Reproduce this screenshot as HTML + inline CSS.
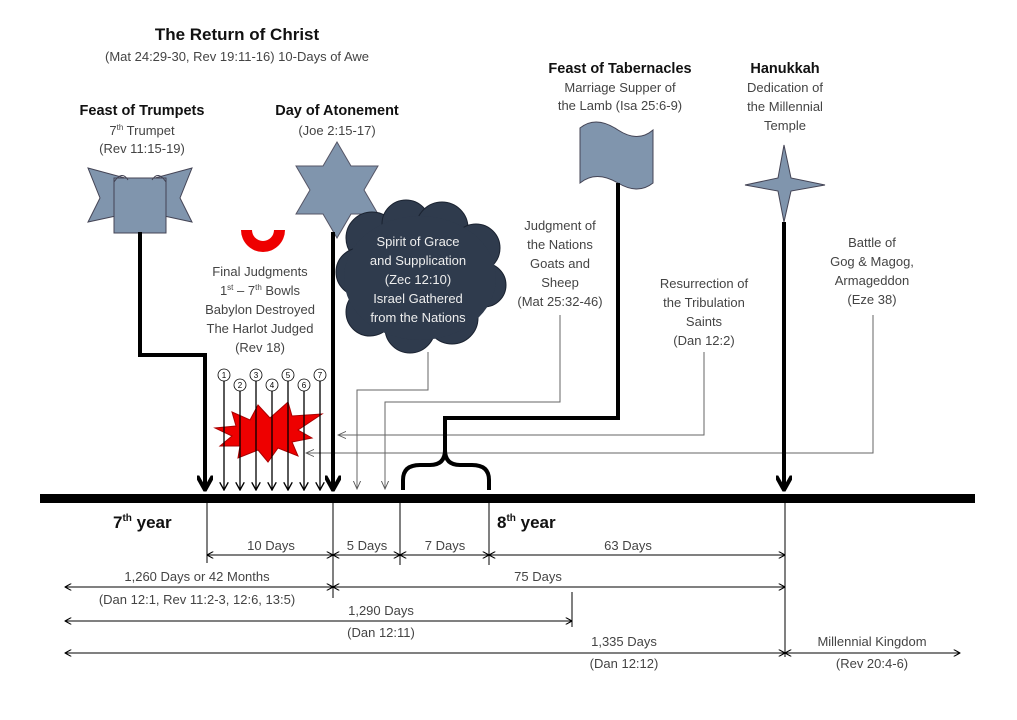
<!DOCTYPE html>
<html><head><meta charset="utf-8"><style>
html,body{margin:0;padding:0;background:#fff;}
svg{display:block;font-family:"Liberation Sans",sans-serif;}
.t{fill:#444;font-size:13px;text-anchor:middle;}
.b{fill:#111;font-size:14.5px;font-weight:bold;text-anchor:middle;}
.w{fill:#eee;font-size:13px;text-anchor:middle;}
</style></head><body>
<svg width="1017" height="720" viewBox="0 0 1017 720">
<defs>
<marker id="ah" viewBox="0 0 10 10" refX="9" refY="5" markerWidth="7" markerHeight="7" orient="auto-start-reverse"><path d="M0,0 L9,5 L0,10" fill="none" stroke="#000" stroke-width="1.5"/></marker>
<marker id="bh" viewBox="0 0 10 10" refX="9" refY="5" markerWidth="4" markerHeight="4" orient="auto"><path d="M0,0 L9,5 L0,10" fill="none" stroke="#000" stroke-width="2.5"/></marker>
<marker id="gh" viewBox="0 0 10 10" refX="9" refY="5" markerWidth="9" markerHeight="9" orient="auto"><path d="M0,1 L9,5 L0,9" fill="none" stroke="#555" stroke-width="1"/></marker>
</defs>
<text class="b" x="237" y="40" style="font-size:17px">The Return of Christ</text>
<text class="t" x="237" y="61">(Mat 24:29-30, Rev 19:11-16) 10-Days of Awe</text>
<text class="b" x="142" y="115">Feast of Trumpets</text>
<text class="t" x="142" y="135">7<tspan font-size="8" dy="-5">th</tspan><tspan dy="5"> Trumpet</tspan></text>
<text class="t" x="142" y="153">(Rev 11:15-19)</text>
<text class="b" x="337" y="115">Day of Atonement</text>
<text class="t" x="337" y="135">(Joe 2:15-17)</text>
<text class="b" x="620" y="73">Feast of Tabernacles</text>
<text class="t" x="620" y="92">Marriage Supper of</text>
<text class="t" x="620" y="110">the Lamb (Isa 25:6-9)</text>
<text class="b" x="785" y="73">Hanukkah</text>
<text class="t" x="785" y="92">Dedication of</text>
<text class="t" x="785" y="111">the Millennial</text>
<text class="t" x="785" y="130">Temple</text>
<path d="M88,168 L125,178 L155,178 L192,168 L180,198 L192,222 L155,214 L125,214 L88,222 L100,198 Z" fill="#8095ad" stroke="#445" stroke-width="1"/>
<rect x="114" y="178" width="52" height="55" fill="#8095ad" stroke="#445"/>
<path d="M114,182 Q122,170 128,180 M166,182 Q158,170 152,180" fill="none" stroke="#445"/>
<polygon points="337,142 351,166 378,166 364,190 378,214 351,214 337,238 323,214 296,214 310,190 296,166 323,166" fill="#8095ad" stroke="#556"/>
<path d="M580,128 Q596,115 618,130 Q638,143 653,130 L653,183 Q638,195 618,183 Q596,170 580,183 Z" fill="#8095ad" stroke="#445"/>
<path d="M784,145 L791,178 L825,185 L791,191 L784,222 L778,191 L745,185 L778,178 Z" fill="#8095ad" stroke="#445"/>
<path d="M241,230 L252,230 A11,11 0 0 0 274,230 L285,230 A22,22 0 0 1 241,230 Z" fill="#e00"/>
<text class="t" x="260" y="276">Final Judgments</text>
<text class="t" x="260" y="295">1<tspan font-size="8" dy="-5">st</tspan><tspan dy="5"> – 7</tspan><tspan font-size="8" dy="-5">th</tspan><tspan dy="5"> Bowls</tspan></text>
<text class="t" x="260" y="314">Babylon Destroyed</text>
<text class="t" x="260" y="333">The Harlot Judged</text>
<text class="t" x="260" y="352">(Rev 18)</text>
<g fill="#2f3b4d" stroke="#1a2230">
<circle cx="372" cy="238" r="26"/><circle cx="406" cy="224" r="24"/><circle cx="442" cy="228" r="26"/><circle cx="476" cy="248" r="24"/>
<circle cx="360" cy="272" r="24"/><circle cx="484" cy="285" r="22"/><circle cx="370" cy="312" r="24"/>
<circle cx="410" cy="328" r="25"/><circle cx="452" cy="318" r="26"/>
</g>
<ellipse cx="420" cy="278" rx="76" ry="62" fill="#2f3b4d"/>
<text class="w" x="418" y="246">Spirit of Grace</text>
<text class="w" x="418" y="265">and Supplication</text>
<text class="w" x="418" y="284">(Zec 12:10)</text>
<text class="w" x="418" y="303">Israel Gathered</text>
<text class="w" x="418" y="322">from the Nations</text>
<text class="t" x="560" y="230">Judgment of</text>
<text class="t" x="560" y="249">the Nations</text>
<text class="t" x="560" y="268">Goats and</text>
<text class="t" x="560" y="287">Sheep</text>
<text class="t" x="560" y="306">(Mat 25:32-46)</text>
<text class="t" x="704" y="288">Resurrection of</text>
<text class="t" x="704" y="307">the Tribulation</text>
<text class="t" x="704" y="326">Saints</text>
<text class="t" x="704" y="345">(Dan 12:2)</text>
<text class="t" x="872" y="247">Battle of</text>
<text class="t" x="872" y="266">Gog &amp; Magog,</text>
<text class="t" x="872" y="285">Armageddon</text>
<text class="t" x="872" y="304">(Eze 38)</text>
<g fill="none" stroke="#666" stroke-width="1">
<path d="M428,352 V390 H357 V489" marker-end="url(#gh)"/>
<path d="M560,315 V402 H385 V489" marker-end="url(#gh)"/>
<path d="M704,352 V435 H338" marker-end="url(#gh)"/>
<path d="M873,315 V453 H306" marker-end="url(#gh)"/>
</g>
<polygon points="232,412 250,420 258,405 270,418 288,402 292,416 322,414 298,430 312,438 292,442 298,456 278,448 268,462 258,450 238,458 240,446 220,446 232,436 215,428 236,426" fill="#e00" stroke="#a00"/>
<g stroke="#000" stroke-width="1.3" fill="none">
<line x1="224" y1="381" x2="224" y2="490" marker-end="url(#ah)"/>
<line x1="240" y1="391" x2="240" y2="490" marker-end="url(#ah)"/>
<line x1="256" y1="381" x2="256" y2="490" marker-end="url(#ah)"/>
<line x1="272" y1="391" x2="272" y2="490" marker-end="url(#ah)"/>
<line x1="288" y1="381" x2="288" y2="490" marker-end="url(#ah)"/>
<line x1="304" y1="391" x2="304" y2="490" marker-end="url(#ah)"/>
<line x1="320" y1="381" x2="320" y2="490" marker-end="url(#ah)"/>
</g>
<g fill="#fff" stroke="#000" stroke-width="0.8">
<circle cx="224" cy="375" r="6"/><circle cx="240" cy="385" r="6"/><circle cx="256" cy="375" r="6"/><circle cx="272" cy="385" r="6"/><circle cx="288" cy="375" r="6"/><circle cx="304" cy="385" r="6"/><circle cx="320" cy="375" r="6"/>
</g>
<g font-size="8" text-anchor="middle" fill="#000">
<text x="224" y="378">1</text><text x="240" y="388">2</text><text x="256" y="378">3</text><text x="272" y="388">4</text><text x="288" y="378">5</text><text x="304" y="388">6</text><text x="320" y="378">7</text>
</g>
<g fill="none" stroke="#000" stroke-width="4">
<path d="M140,232 V355 H205 V490" marker-end="url(#bh)"/>
<path d="M333,232 V490" marker-end="url(#bh)"/>
<path d="M784,222 V490" marker-end="url(#bh)"/>
<path d="M618,183 V418 H445 V450"/>
<path d="M403,490 V480 Q403,465 420,465 H430 Q445,465 445,450 Q445,465 460,465 H472 Q489,465 489,480 V490"/>
</g>
<rect x="40" y="494" width="935" height="9" fill="#000"/>
<text x="113" y="528" style="font-size:17px;font-weight:bold;fill:#111">7<tspan font-size="10" dy="-7">th</tspan><tspan dy="7"> year</tspan></text>
<text x="497" y="528" style="font-size:17px;font-weight:bold;fill:#111">8<tspan font-size="10" dy="-7">th</tspan><tspan dy="7"> year</tspan></text>
<g stroke="#000" stroke-width="1" fill="none">
<line x1="207" y1="503" x2="207" y2="563"/>
<line x1="333" y1="503" x2="333" y2="598"/>
<line x1="400" y1="503" x2="400" y2="565"/>
<line x1="489" y1="503" x2="489" y2="565"/>
<line x1="572" y1="592" x2="572" y2="627"/>
<line x1="785" y1="503" x2="785" y2="657"/>
<line x1="207" y1="555" x2="333" y2="555" marker-start="url(#ah)" marker-end="url(#ah)"/>
<line x1="333" y1="555" x2="400" y2="555" marker-start="url(#ah)" marker-end="url(#ah)"/>
<line x1="400" y1="555" x2="489" y2="555" marker-start="url(#ah)" marker-end="url(#ah)"/>
<line x1="489" y1="555" x2="785" y2="555" marker-start="url(#ah)" marker-end="url(#ah)"/>
<line x1="65" y1="587" x2="333" y2="587" marker-start="url(#ah)" marker-end="url(#ah)"/>
<line x1="333" y1="587" x2="785" y2="587" marker-start="url(#ah)" marker-end="url(#ah)"/>
<line x1="65" y1="621" x2="572" y2="621" marker-start="url(#ah)" marker-end="url(#ah)"/>
<line x1="65" y1="653" x2="785" y2="653" marker-start="url(#ah)" marker-end="url(#ah)"/>
<line x1="785" y1="653" x2="960" y2="653" marker-start="url(#ah)" marker-end="url(#ah)"/>
</g>
<text class="t" x="271" y="550">10 Days</text>
<text class="t" x="367" y="550">5 Days</text>
<text class="t" x="445" y="550">7 Days</text>
<text class="t" x="628" y="550">63 Days</text>
<text class="t" x="197" y="581">1,260 Days or 42 Months</text>
<text class="t" x="538" y="581">75 Days</text>
<text class="t" x="197" y="604">(Dan 12:1, Rev 11:2-3, 12:6, 13:5)</text>
<text class="t" x="381" y="615">1,290 Days</text>
<text class="t" x="381" y="637">(Dan 12:11)</text>
<text class="t" x="624" y="646">1,335 Days</text>
<text class="t" x="624" y="668">(Dan 12:12)</text>
<text class="t" x="872" y="646">Millennial Kingdom</text>
<text class="t" x="872" y="668">(Rev 20:4-6)</text>
</svg>
</body></html>
